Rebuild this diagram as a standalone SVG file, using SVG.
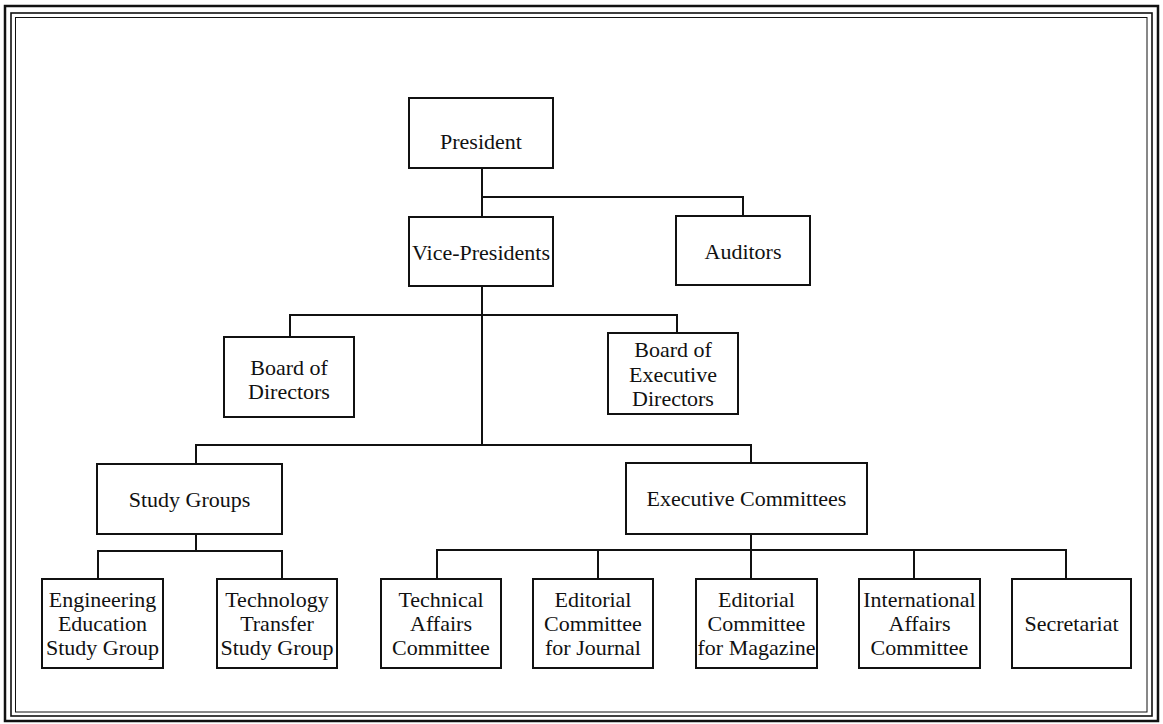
<svg xmlns="http://www.w3.org/2000/svg" width="1163" height="724" viewBox="0 0 1163 724">
<style>
.frame{fill:none;stroke:#111}
.box{fill:#fff;stroke:#111;stroke-width:2}
.con{fill:none;stroke:#111;stroke-width:2}
text{font-family:"Liberation Serif","Times New Roman",serif;font-size:22px;fill:#111;text-anchor:middle}
</style>
<rect width="1163" height="724" fill="#fff"/>
<g id="frame">
<rect class="frame" x="5" y="6" width="1153" height="715" stroke-width="2.5"/>
<rect class="frame" x="11" y="13" width="1141" height="703" stroke-width="1.6"/>
<rect class="frame" x="15.5" y="17.5" width="1131.5" height="694.5" stroke-width="1"/>
</g>
<g id="connectors">
<path class="con" d="M482 168V286M482 197H743V216"/>
<path class="con" d="M482 286V445M290 337V315H677V333"/>
<path class="con" d="M196 464V445H751V463"/>
<path class="con" d="M196 534V551M98 579V551H282V579"/>
<path class="con" d="M751 534V579M437 579V550H1066V579M598 550V579M914 550V579"/>
</g>
<g id="president"><rect class="box" x="409" y="98" width="144" height="70"/><text x="481" y="149">President</text></g>
<g id="vice-presidents"><rect class="box" x="409" y="217" width="144" height="69"/><text x="481" y="260">Vice-Presidents</text></g>
<g id="auditors"><rect class="box" x="676" y="216" width="134" height="69"/><text x="743" y="259">Auditors</text></g>
<g id="board-of-directors"><rect class="box" x="224" y="337" width="130" height="80"/><text x="289" y="375">Board of</text><text x="289" y="399">Directors</text></g>
<g id="board-of-executive-directors"><rect class="box" x="608" y="333" width="130" height="81"/><text x="673" y="357">Board of</text><text x="673" y="382">Executive</text><text x="673" y="406">Directors</text></g>
<g id="study-groups"><rect class="box" x="97" y="464" width="185" height="70"/><text x="189.5" y="507">Study Groups</text></g>
<g id="executive-committees"><rect class="box" x="626" y="463" width="241" height="71"/><text x="746.5" y="506">Executive Committees</text></g>
<g id="engineering-education"><rect class="box" x="42" y="579" width="121" height="89"/><text x="102.5" y="607">Engineering</text><text x="102.5" y="631">Education</text><text x="102.5" y="655">Study Group</text></g>
<g id="technology-transfer"><rect class="box" x="217" y="579" width="120" height="89"/><text x="277" y="607">Technology</text><text x="277" y="631">Transfer</text><text x="277" y="655">Study Group</text></g>
<g id="technical-affairs"><rect class="box" x="381" y="579" width="120" height="89"/><text x="441" y="607">Technical</text><text x="441" y="631">Affairs</text><text x="441" y="655">Committee</text></g>
<g id="editorial-journal"><rect class="box" x="533" y="579" width="120" height="89"/><text x="593" y="607">Editorial</text><text x="593" y="631">Committee</text><text x="593" y="655">for Journal</text></g>
<g id="editorial-magazine"><rect class="box" x="696" y="579" width="121" height="89"/><text x="756.5" y="607">Editorial</text><text x="756.5" y="631">Committee</text><text x="756.5" y="655">for Magazine</text></g>
<g id="international-affairs"><rect class="box" x="859" y="579" width="121" height="89"/><text x="919.5" y="607">International</text><text x="919.5" y="631">Affairs</text><text x="919.5" y="655">Committee</text></g>
<g id="secretariat"><rect class="box" x="1012" y="579" width="119" height="89"/><text x="1071.5" y="631">Secretariat</text></g>
</svg>
